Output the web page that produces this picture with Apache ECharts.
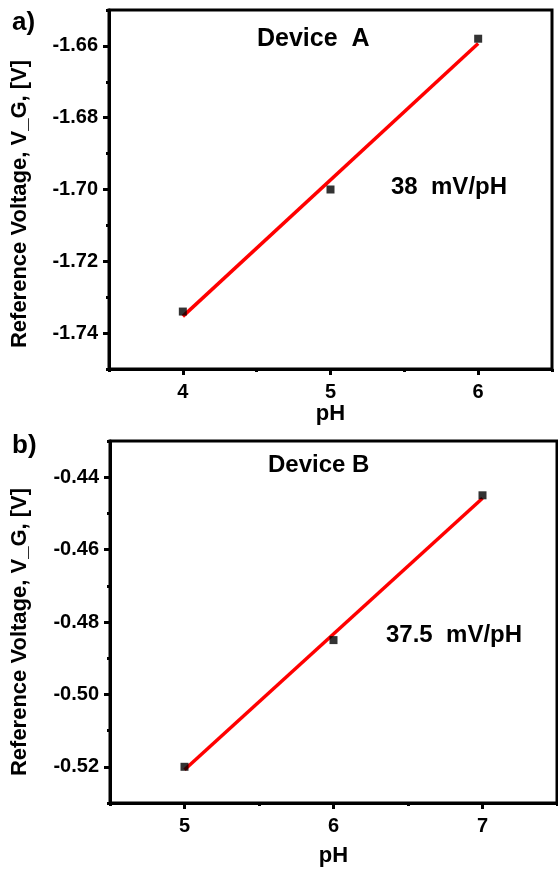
<!DOCTYPE html>
<html>
<head>
<meta charset="utf-8">
<title>Reference voltage vs pH</title>
<script src="https://cdn.jsdelivr.net/npm/echarts@6/dist/echarts.min.js"></script>
<style>
  html, body { margin: 0; padding: 0; background: #fff; }
  #chart { width: 558px; height: 871px; }
</style>
</head>
<body>
<div id="chart"></div>
<script>
// Measured points: pH and reference voltage V_G [V]
const phA = [4, 5, 6];
const vgA = [-1.734, -1.700, -1.658];
const phB = [5, 6, 7];
const vgB = [-0.520, -0.485, -0.445];

// Sensitivities of the fitted lines (mV/pH)
const slopeA = 38;
const slopeB = 37.5;

// Axis ticks
const xTicksA = [4, 5, 6];
const xMinorA = [3.5, 4.5, 5.5, 6.5];
const yTicksA = [-1.74, -1.72, -1.70, -1.68, -1.66];
const yMinorA = [-1.75, -1.73, -1.71, -1.69, -1.67, -1.65];
const xTicksB = [5, 6, 7];
const xMinorB = [4.5, 5.5, 6.5, 7.5];
const yTicksB = [-0.52, -0.50, -0.48, -0.46, -0.44];
const yMinorB = [-0.53, -0.51, -0.49, -0.47, -0.45, -0.43];

// Line of given slope through the centroid of the points, spanning the pH range
function fitLine(xs, ys, slopeMv) {
  const k = slopeMv / 1000;
  const mx = xs.reduce((a, b) => a + b, 0) / xs.length;
  const my = ys.reduce((a, b) => a + b, 0) / ys.length;
  const x0 = Math.min(...xs), x1 = Math.max(...xs);
  return [[x0, my + k * (x0 - mx)], [x1, my + k * (x1 - mx)]];
}

const FONT = 'Liberation Sans, Arial, sans-serif';
const lineStyle = { color: '#000', width: 3 };

function xAxes(gridIndex, min, max, ticks, minor, gap) {
  return [
    {
      type: 'value', gridIndex, min, max, position: 'bottom',
      name: 'pH', nameLocation: 'middle', nameGap: gap,
      nameTextStyle: { fontFamily: FONT, fontWeight: 'bold', fontSize: 22, color: '#000' },
      axisLine: { show: true, onZero: false, lineStyle },
      axisTick: { show: true, customValues: ticks, length: 6, lineStyle: { color: '#000', width: 3 } },
      axisLabel: { customValues: ticks, margin: 13, fontFamily: FONT, fontWeight: 'bold', fontSize: 20, color: '#000' },
      splitLine: { show: false }
    },
    {
      type: 'value', gridIndex, min, max, position: 'bottom',
      axisLine: { show: false, onZero: false },
      axisTick: { show: true, customValues: minor, length: 3, lineStyle: { color: '#000', width: 3 } },
      axisLabel: { show: false },
      splitLine: { show: false }
    }
  ];
}

function yAxes(gridIndex, min, max, ticks, minor) {
  return [
    {
      type: 'value', gridIndex, min, max, position: 'left',
      axisLine: { show: true, onZero: false, lineStyle },
      axisTick: { show: true, customValues: ticks, length: 6, lineStyle: { color: '#000', width: 3 } },
      axisLabel: { customValues: ticks, margin: 11, fontFamily: FONT, fontWeight: 'bold', fontSize: 20, color: '#000',
                   formatter: v => v.toFixed(2) },
      splitLine: { show: false }
    },
    {
      type: 'value', gridIndex, min, max, position: 'left',
      axisLine: { show: false, onZero: false },
      axisTick: { show: true, customValues: minor, length: 3, lineStyle: { color: '#000', width: 3 } },
      axisLabel: { show: false },
      splitLine: { show: false }
    }
  ];
}

function pts(xs, ys) { return xs.map((x, i) => [x, ys[i]]); }

function textEl(text, x, y, size) {
  return {
    type: 'text', left: x, top: y,
    style: { text, fontFamily: FONT, fontWeight: 'bold', fontSize: size, fill: '#000' }
  };
}

// Vertical axis title, rotated and centred on (cx, cy)
function yTitle(cx, cy) {
  return {
    type: 'text', x: cx, y: cy, rotation: Math.PI / 2,
    style: { text: 'Reference Voltage, V_G, [V]', fontFamily: FONT, fontWeight: 'bold', fontSize: 22,
             fill: '#000', align: 'center', verticalAlign: 'middle' }
  };
}

const chart = echarts.init(document.getElementById('chart'), null, { renderer: 'canvas' });
chart.setOption({
  animation: false,
  backgroundColor: '#fff',
  grid: [
    { left: 109, top: 10, width: 443, height: 359, show: true, borderColor: '#000', borderWidth: 3, backgroundColor: 'transparent' },
    { left: 110, top: 441, width: 447, height: 362, show: true, borderColor: '#000', borderWidth: 3, backgroundColor: 'transparent' }
  ],
  xAxis: [
    ...xAxes(0, 3.5, 6.5, xTicksA, xMinorA, 24),
    ...xAxes(1, 4.5, 7.5, xTicksB, xMinorB, 42)
  ],
  yAxis: [
    ...yAxes(0, -1.75, -1.65, yTicksA, yMinorA),
    ...yAxes(1, -0.53, -0.43, yTicksB, yMinorB)
  ],
  series: [
    {
      type: 'line', xAxisIndex: 0, yAxisIndex: 0, data: fitLine(phA, vgA, slopeA),
      showSymbol: false, lineStyle: { color: '#ff0000', width: 3.5 }, z: 2
    },
    {
      type: 'scatter', xAxisIndex: 0, yAxisIndex: 0, data: pts(phA, vgA),
      symbol: 'rect', symbolSize: 8, itemStyle: { color: '#000' }, z: 3
    },
    {
      type: 'line', xAxisIndex: 2, yAxisIndex: 2, data: fitLine(phB, vgB, slopeB),
      showSymbol: false, lineStyle: { color: '#ff0000', width: 3.5 }, z: 2
    },
    {
      type: 'scatter', xAxisIndex: 2, yAxisIndex: 2, data: pts(phB, vgB),
      symbol: 'rect', symbolSize: 8, itemStyle: { color: '#000' }, z: 3
    }
  ],
  graphic: [
    yTitle(20, 204),
    yTitle(20, 632),
    textEl('a)', 12, 10, 26),
    textEl('b)', 12, 433, 26),
    textEl('Device  A', 257, 27, 25),
    textEl('38  mV/pH', 391, 175, 24),
    textEl('Device B', 268, 453, 24),
    textEl('37.5  mV/pH', 386, 623, 24)
  ]
});
</script>
</body>
</html>
